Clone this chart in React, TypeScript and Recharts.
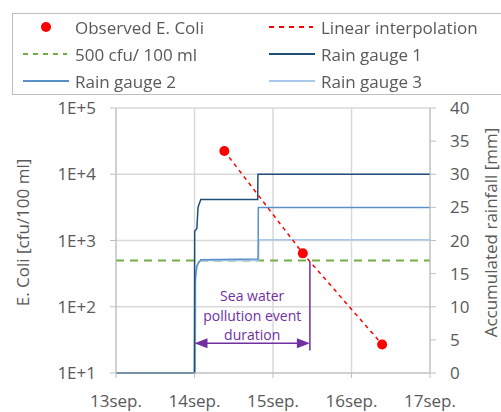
import React from 'react';
import {
  ComposedChart, Line, Scatter, XAxis, YAxis, CartesianGrid, ReferenceLine,
} from 'recharts';

// E. coli observations (day of September, cfu/100 ml)
const observed = [
  { day: 14.38, cfu: 22400 },
  { day: 15.38, cfu: 640 },
  { day: 16.39, cfu: 27 },
];

// accumulated rainfall [mm]
const gauge1 = [
  { day: 13, mm: 0 }, { day: 14.0, mm: 0 }, { day: 14.002, mm: 21.4 }, { day: 14.03, mm: 21.8 },
  { day: 14.045, mm: 25 }, { day: 14.08, mm: 26.2 }, { day: 14.805, mm: 26.2 }, { day: 14.808, mm: 30 },
  { day: 17, mm: 30 },
];
const gauge2 = [
  { day: 13, mm: 0 }, { day: 14.0, mm: 0 }, { day: 14.005, mm: 13.6 }, { day: 14.03, mm: 16.2 },
  { day: 14.08, mm: 17.1 }, { day: 14.81, mm: 17.2 }, { day: 14.813, mm: 25 }, { day: 17, mm: 25 },
];
const gauge3 = [
  { day: 13, mm: 0 }, { day: 14.01, mm: 0 }, { day: 14.015, mm: 15.2 }, { day: 14.05, mm: 16.8 },
  { day: 14.1, mm: 17.0 }, { day: 14.815, mm: 17.0 }, { day: 14.82, mm: 20.1 }, { day: 17, mm: 20.1 },
];

const threshold = 500;
const eventStart = 14.0;
const eventEnd = 15.47;

const dayTicks = [13, 14, 15, 16, 17];
const logTicks = [10, 100, 1000, 10000, 100000];
const mmTicks = [0, 5, 10, 15, 20, 25, 30, 35, 40];

const FONT = '"Open Sans", "Noto Sans", sans-serif';
const GREY = '#595959';
const PURPLE = '#7030A0';

const C_RED = '#FF0000';
const C_GREEN = '#70AD47';
const C_G1 = '#1F4E79';
const C_G2 = '#5B8FC9';
const C_G3 = '#A9C8EA';

const ArrowShape = (p: any) => {
  const { x1, y1, x2 } = p;
  const cx = (x1 + x2) / 2;
  return (
    <g>
      <line x1={x1 + 10} y1={y1} x2={x2 - 10} y2={y1} stroke={PURPLE} strokeWidth={1.5} />
      <polygon points={`${x1},${y1} ${x1 + 13},${y1 - 5} ${x1 + 13},${y1 + 5}`} fill={PURPLE} />
      <polygon points={`${x2},${y1} ${x2 - 13},${y1 - 5} ${x2 - 13},${y1 + 5}`} fill={PURPLE} />
      <text x={cx} textAnchor="middle" fill={PURPLE} fontSize={14} fontFamily={FONT}>
        <tspan x={cx} y={y1 - 42}>Sea water</tspan>
        <tspan x={cx} y={y1 - 22}>pollution event</tspan>
        <tspan x={cx} y={y1 - 3}>duration</tspan>
      </text>
    </g>
  );
};

const LegendRow = ({ kind, color, label }: { kind: string; color: string; label: string }) => (
  <div style={{ display: 'flex', alignItems: 'center', height: 27 }}>
    <svg width={60} height={14} style={{ flex: 'none' }}>
      {kind === 'dot' && <circle cx={33} cy={7} r={5} fill={color} />}
      {kind === 'dash' && <line x1={10} y1={7} x2={54} y2={7} stroke={color} strokeWidth={2} strokeDasharray="5 5" />}
      {kind === 'line' && <line x1={10} y1={7} x2={56} y2={7} stroke={color} strokeWidth={2} />}
    </svg>
    <span style={{ marginLeft: 2 }}>{label}</span>
  </div>
);

export default function App() {
  return (
    <div style={{ position: 'fixed', left: 0, top: 0, width: 501, height: 412, background: '#fff', fontFamily: FONT }}>
      <ComposedChart width={501} height={412} margin={{ top: 108, right: 0, bottom: 0, left: 0 }}>
        <CartesianGrid yAxisId="left" stroke="#D9D9D9" strokeWidth={1.5} />
        <XAxis
          type="number" dataKey="day" domain={[13, 17]} ticks={dayTicks} height={39}
          tickFormatter={(d: number) => `${d}sep.`} stroke="#BFBFBF" tickSize={5} tickMargin={17}
          tick={{ fill: GREY, fontSize: 17, fontFamily: FONT }} allowDataOverflow
        />
        <YAxis
          yAxisId="left" scale="log" domain={[10, 100000]} ticks={logTicks} width={116}
          tickFormatter={(v: number) => `1E+${Math.round(Math.log10(v))}`} stroke="#BFBFBF"
          tickSize={6} tickMargin={14} tick={{ fill: GREY, fontSize: 17, fontFamily: FONT }} allowDataOverflow
          label={{
            content: (props: any) => {
              const vb = props.viewBox;
              const x = vb.x + 22;
              const y = vb.y + vb.height / 2 - 8;
              return (
                <text x={x} y={y} transform={`rotate(-90, ${x}, ${y})`} textAnchor="middle" dominantBaseline="central"
                  fill={GREY} fontSize={17} fontFamily={FONT}>E. Coli [cfu/100 ml]</text>
              );
            },
          }}
        />
        <YAxis
          yAxisId="right" orientation="right" domain={[0, 40]} ticks={mmTicks} width={71}
          stroke="#BFBFBF" tickSize={6} tickMargin={14} tick={{ fill: GREY, fontSize: 17, fontFamily: FONT, textAnchor: 'start' }}
          label={{
            content: (props: any) => {
              const vb = props.viewBox;
              const x = vb.x + 60;
              const y = vb.y + vb.height / 2 - 8;
              return (
                <text x={x} y={y} transform={`rotate(-90, ${x}, ${y})`} textAnchor="middle" dominantBaseline="central"
                  fill={GREY} fontSize={17} fontFamily={FONT}>Accumulated rainfall [mm]</text>
              );
            },
          }}
        />
        <ReferenceLine yAxisId="left" y={threshold} stroke={C_GREEN} strokeWidth={2} strokeDasharray="8 6" />
        <Line yAxisId="right" data={gauge3} dataKey="mm" type="linear" stroke={C_G3} strokeWidth={1.5} dot={false} isAnimationActive={false} />
        <Line yAxisId="right" data={gauge2} dataKey="mm" type="linear" stroke={C_G2} strokeWidth={1.5} dot={false} isAnimationActive={false} />
        <Line yAxisId="right" data={gauge1} dataKey="mm" type="linear" stroke={C_G1} strokeWidth={1.5} dot={false} isAnimationActive={false} />
        <Line yAxisId="left" data={observed} dataKey="cfu" type="linear" stroke={C_RED} strokeWidth={1.5} strokeDasharray="4 4" dot={false} isAnimationActive={false} />
        <Scatter yAxisId="left" data={observed} dataKey="cfu" fill={C_RED} isAnimationActive={false}
          shape={(p: any) => <circle cx={p.cx} cy={p.cy} r={5} fill={C_RED} />} />
        <ReferenceLine yAxisId="right" segment={[{ x: eventEnd, y: 16.8 }, { x: eventEnd, y: 3.4 }]} stroke={PURPLE} strokeWidth={1.5} />
        <ReferenceLine yAxisId="right" segment={[{ x: eventStart, y: 4.5 }, { x: eventEnd, y: 4.5 }]} shape={ArrowShape} />
      </ComposedChart>
      <div style={{
        position: 'absolute', left: 12, top: 13, width: 489, height: 82, boxSizing: 'border-box',
        border: '1px solid #BFBFBF', borderRight: 'none', color: GREY, fontSize: 17, background: '#fff',
        display: 'grid', gridTemplateColumns: '246px 243px', alignContent: 'center', lineHeight: 1,
      }}>
        <LegendRow kind="dot" color={C_RED} label="Observed E. Coli" />
        <LegendRow kind="dash" color={C_RED} label="Linear interpolation" />
        <LegendRow kind="dash" color={C_GREEN} label="500 cfu/ 100 ml" />
        <LegendRow kind="line" color={C_G1} label="Rain gauge 1" />
        <LegendRow kind="line" color={C_G2} label="Rain gauge 2" />
        <LegendRow kind="line" color={C_G3} label="Rain gauge 3" />
      </div>
    </div>
  );
}
